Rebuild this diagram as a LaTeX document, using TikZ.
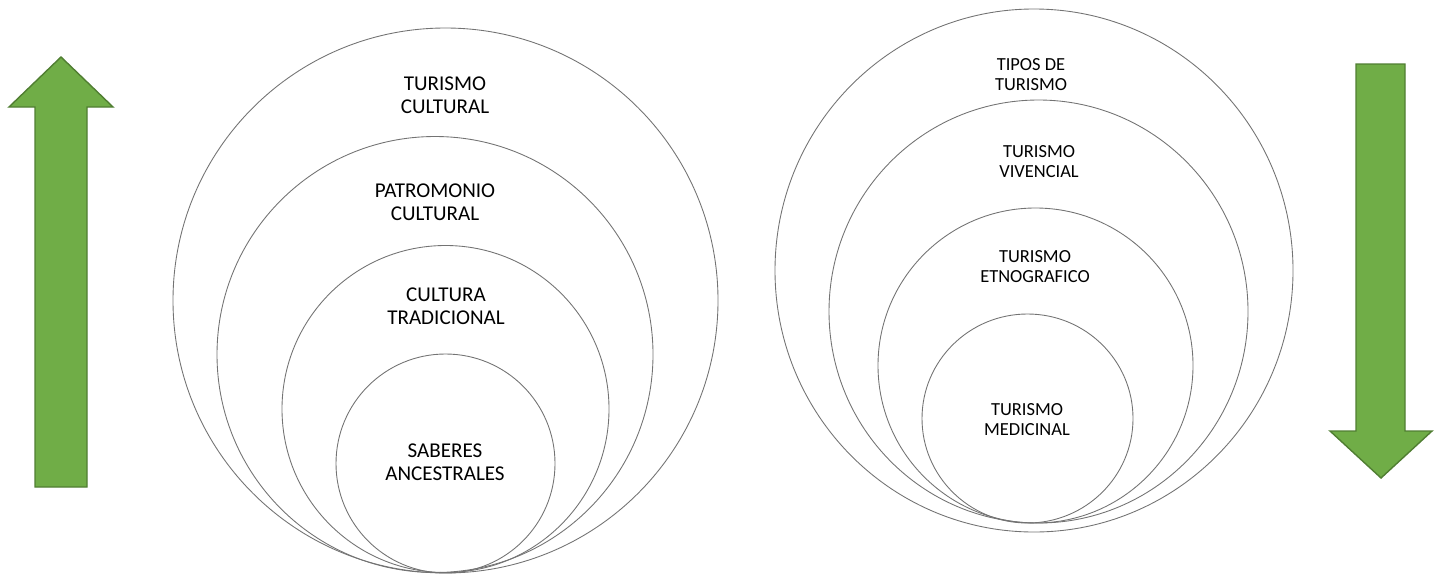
\documentclass[tikz,border=0pt]{standalone}
\usepackage{fontspec}
\setmainfont{Carlito}

\definecolor{arrowgreen}{HTML}{70AD47}
\definecolor{arrowedge}{HTML}{507E32}

\tikzset{
    ring/.style={draw=black!55, line width=0.5pt},
    flecha/.style={fill=arrowgreen, draw=arrowedge, line width=0.8pt, line join=miter},
    biglabel/.style={font=\fontsize{12}{13.2}\selectfont, align=center, inner sep=0pt},
    smalllabel/.style={font=\fontsize{10.5}{11.4}\selectfont, align=center, inner sep=0pt}
}

\begin{document}
\begin{tikzpicture}[x=0.02cm,y=-0.02cm]
    \useasboundingbox (0,0) rectangle (1439,575);

    % draw the arrows
    \filldraw[flecha] (61,57) -- (113,107) -- (87,107) -- (87,487) -- (35,487) -- (35,107) -- (9,107) -- cycle;
    \filldraw[flecha] (1381,478) -- (1432,431) -- (1405,431) -- (1405,64) -- (1356,64) -- (1356,431) -- (1330,431) -- cycle;

    % draw the circles on the left
    \foreach \cx/\cy/\r in {445.5/300.5/272.5, 435/354.5/218, 445.5/409/163.5, 445.5/463.5/109.5}
        \draw[ring] (\cx,\cy) circle[radius=\r];

    % draw the circles on the right
    \foreach \cx/\cy/\rx/\ry in {1034/270.5/259/261.5, 1038.5/311.5/209.5/211.5, 1035.5/365.5/157.5/157.5, 1027.5/418.5/105.5/104.5}
        \draw[ring] (\cx,\cy) ellipse[x radius=\rx, y radius=\ry];

    % draw the labels on the left
    \foreach \n/\x/\y/\t in {
        turcult/445/95/{TURISMO\\CULTURAL},
        patcult/435/202/{PATROMONIO\\CULTURAL},
        cultrad/446/306.5/{CULTURA\\TRADICIONAL},
        saberes/445/462.5/{SABERES\\ANCESTRALES}}
            \node[biglabel] (\n) at (\x,\y) {\t};

    % draw the labels on the right
    \foreach \n/\x/\y/\t in {
        tipos/1031/75/{TIPOS DE\\TURISMO},
        vivencial/1039/162/{TURISMO\\VIVENCIAL},
        etnografico/1035/267/{TURISMO\\ETNOGRAFICO},
        medicinal/1027/420/{TURISMO\\MEDICINAL}}
            \node[smalllabel] (\n) at (\x,\y) {\t};
\end{tikzpicture}
\end{document}
